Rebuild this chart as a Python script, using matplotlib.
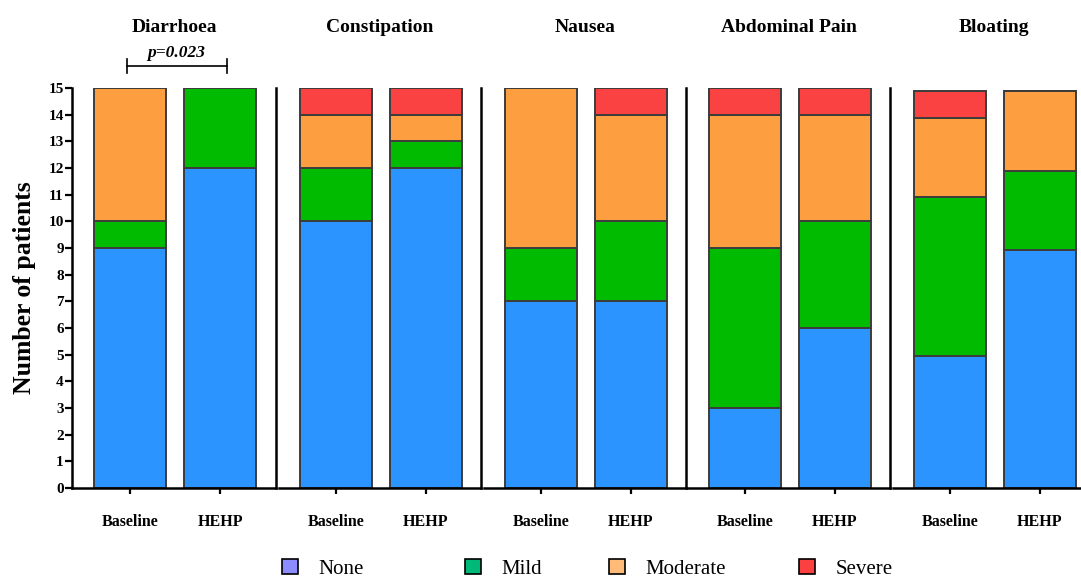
import numpy as np
import matplotlib
matplotlib.use('Agg')
import matplotlib.pyplot as plt
from matplotlib.patches import Patch

plt.rcParams['font.family'] = ['Liberation Serif', 'DejaVu Serif']

# datos
sintomas = ["Diarrhoea", "Constipation", "Nausea", "Abdominal Pain", "Bloating"]
grupos = ["Baseline", "HEHP"]
niveles = ["None", "Mild", "Moderate", "Severe"]
none_v = [[9, 12], [10, 12], [7, 7], [3, 6], [5, 9]]
mild_v = [[1, 3], [2, 1], [2, 3], [6, 4], [6, 3]]
moder_v = [[5, 0], [2, 1], [6, 4], [5, 4], [3, 3]]
sever_v = [[0, 0], [1, 1], [0, 1], [1, 1], [1, 0]]
p_texto = "p=0.023"

col_barra = ['#2b94ff', '#00bb00', '#fd9f40', '#fb4242']
col_leyenda = ['#8c8cff', '#00b877', '#ffbb77', '#fc4040']

fig = plt.figure(figsize=(10.81, 5.78), dpi=100)
W, H = 1081., 578.
izq = [72, 279, 484, 688, 893]
der = [276, 481, 686, 890, 1095]
abajo = 488
alto = 400

ejes = []
for k, nombre in enumerate(sintomas):
    ax = fig.add_axes([izq[k] / W, 1 - abajo / H, (der[k] - izq[k]) / W, alto / H])
    ax.set_facecolor('none')
    ejes.append(ax)
    x = np.arange(len(grupos))
    base = np.zeros(len(grupos))
    for serie, c in zip([none_v, mild_v, moder_v, sever_v], col_barra):
        v = np.array(serie[k], dtype=float)
        ax.bar(x, v, 0.8, bottom=base, color=c, edgecolor='#3c3c3c', linewidth=1.4, zorder=2)
        base = base + v
    if k == 0:
        ax.set_xlim(-0.64, 1.62)
    else:
        ax.set_xlim(-0.63, 1.61)
    ax.set_ylim(0, 15.12 if k == 4 else 15)
    ax.set_xticks(x)
    ax.set_xticklabels(grupos, fontsize=11.5, fontweight='bold')
    ax.tick_params(axis='x', direction='out', length=4, width=1.6, pad=15)
    ax.set_title(nombre, fontsize=14, fontweight='bold', pad=40)
    ax.spines['top'].set_visible(False)
    ax.spines['bottom'].set_linewidth(1.8)
    ax.spines['right'].set_linewidth(1.8)
    ax.spines['left'].set_linewidth(1.8)
    if k == 4:
        ax.spines['right'].set_visible(False)
    if k == 0:
        ax.set_yticks(np.arange(0, 16, 1))
        ax.set_yticklabels([str(i) for i in range(16)], fontsize=11, fontweight='bold')
        ax.tick_params(axis='y', direction='out', length=5, width=1.6, pad=1)
        ax.set_ylabel("Number of patients", fontsize=18.5, fontweight='bold', labelpad=9)
    else:
        ax.spines['left'].set_visible(False)
        ax.set_yticks([])

# llave del valor p
ax = ejes[0]
ax.plot([-0.03, 1.08], [15.83, 15.83], color='black', lw=1.2, clip_on=False)
ax.plot([-0.03, -0.03], [15.56, 16.09], color='black', lw=1.2, clip_on=False)
ax.plot([1.08, 1.08], [15.56, 16.09], color='black', lw=1.2, clip_on=False)
ax.text(0.52, 16.0, p_texto, ha='center', va='bottom', fontsize=12.5,
        fontweight='bold', style='italic', clip_on=False)

# leyenda: una entrada por posicion
pos_ley = [282, 465, 609, 799]
for c, lab, px in zip(col_leyenda, niveles, pos_ley):
    h = Patch(facecolor=c, edgecolor='black', linewidth=1.2)
    fig.legend([h], [lab], loc='center left', bbox_to_anchor=(px / W, 1 - 569 / H),
               frameon=False, fontsize=15, handlelength=0.75, handleheight=0.75,
               handletextpad=1.0, borderpad=0, borderaxespad=0)

plt.savefig("out.png", dpi=100)
